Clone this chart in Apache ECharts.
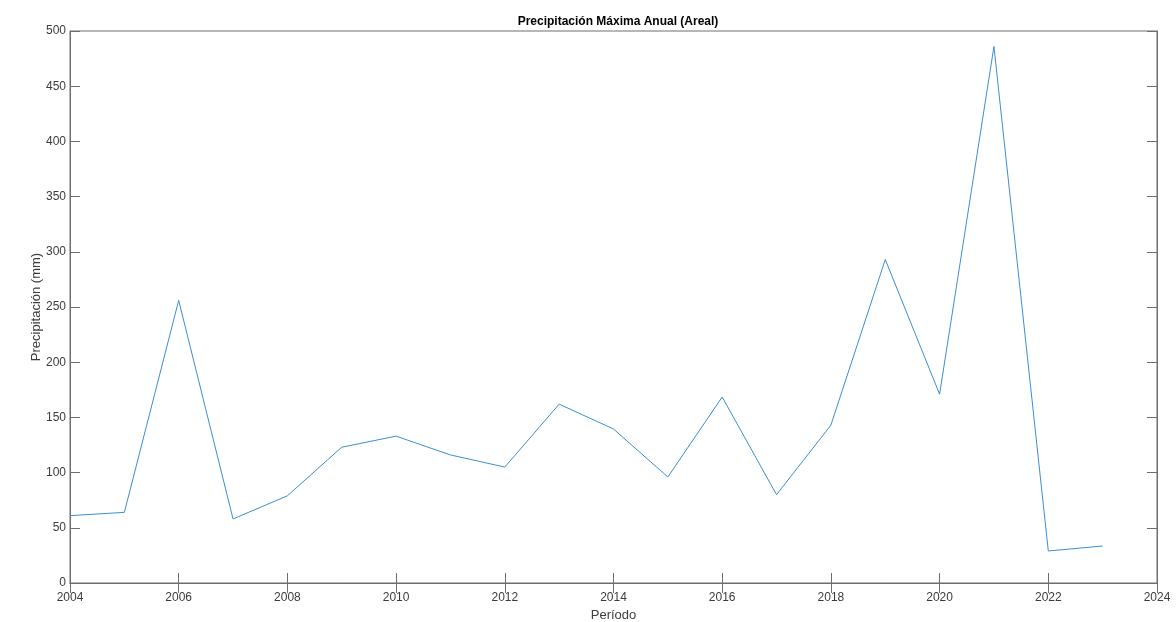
<!DOCTYPE html>
<html>
<head>
<meta charset="utf-8">
<script src="https://cdn.jsdelivr.net/npm/echarts@6/dist/echarts.min.js"></script>
<style>
  html, body { margin: 0; padding: 0; background: #ffffff; }
  #chart { width: 1176px; height: 622px; }
</style>
</head>
<body>
<div id="chart"></div>
<script>
// Annual maximum areal precipitation (mm), 2004–2023
const years = [2004, 2005, 2006, 2007, 2008, 2009, 2010, 2011, 2012, 2013,
               2014, 2015, 2016, 2017, 2018, 2019, 2020, 2021, 2022, 2023];
const precipitation = [61, 64, 256, 58, 79, 123, 133, 116, 105, 162,
                       139.5, 96, 168.5, 80, 143, 293, 171, 486, 29, 33.5];

const titleText = 'Precipitación Máxima Anual (Areal)';
const xName = 'Período';
const yName = 'Precipitación (mm)';

const font = 'Liberation Sans, Arial, Helvetica, sans-serif';
const axisColor = '#6e6e6e';
const labelColor = '#3c3c3c';

const seriesData = years.map((y, i) => [y, precipitation[i]]);

const chart = echarts.init(document.getElementById('chart'), null, { renderer: 'canvas' });

const tickStyle = { show: true, inside: true, length: 10, lineStyle: { color: axisColor, width: 1 } };

chart.setOption({
  animation: false,
  backgroundColor: '#ffffff',
  title: {
    text: titleText,
    left: 613, textAlign: 'center', top: 11,
    textStyle: { fontFamily: font, fontSize: 12, fontWeight: 'bold', color: '#000000' }
  },
  grid: {
    left: 70, right: 19, top: 31, bottom: 39,
    containLabel: false, outerBoundsMode: 'none',
    show: true, borderColor: axisColor, borderWidth: 1, backgroundColor: '#ffffff'
  },
  xAxis: [
    {
      type: 'value', min: 2004, max: 2024, interval: 2,
      name: xName, nameLocation: 'middle', nameGap: 25,
      nameTextStyle: { fontFamily: font, fontSize: 13, color: labelColor },
      axisLine: { show: true, lineStyle: { color: axisColor } },
      axisTick: tickStyle,
      axisLabel: { fontFamily: font, fontSize: 12, color: labelColor, margin: 9, formatter: v => String(v) },
      splitLine: { show: false }
    },
    {
      type: 'value', position: 'top', min: 2004, max: 2024, interval: 2,
      axisLine: { show: true, lineStyle: { color: axisColor } },
      axisTick: tickStyle,
      axisLabel: { show: false },
      splitLine: { show: false }
    }
  ],
  yAxis: [
    {
      type: 'value', min: 0, max: 500, interval: 50,
      name: yName, nameLocation: 'middle', nameGap: 27, nameRotate: 90,
      nameMoveOverlap: false,
      nameTextStyle: { fontFamily: font, fontSize: 13, color: labelColor },
      axisLine: { show: true, lineStyle: { color: axisColor } },
      axisTick: tickStyle,
      axisLabel: { fontFamily: font, fontSize: 12, color: labelColor, margin: 4 },
      splitLine: { show: false }
    },
    {
      type: 'value', position: 'right', min: 0, max: 500, interval: 50,
      axisLine: { show: true, lineStyle: { color: axisColor } },
      axisTick: tickStyle,
      axisLabel: { show: false },
      splitLine: { show: false }
    }
  ],
  series: [
    {
      type: 'line',
      xAxisIndex: 0, yAxisIndex: 0,
      data: seriesData,
      showSymbol: false,
      symbol: 'none',
      lineStyle: { color: '#3a8fd2', width: 1 },
      silent: true
    }
  ]
});
</script>
</body>
</html>
